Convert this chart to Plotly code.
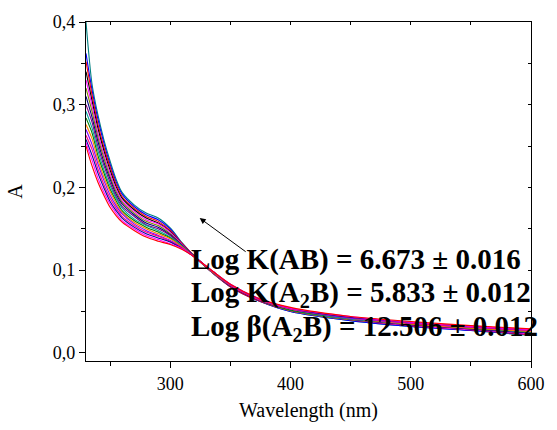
import plotly.graph_objects as go

# Wavelength grid (nm)
wavelength = [230, 235, 240, 245, 250, 255, 260, 270, 280, 290, 300, 310, 320,
              335, 350, 375, 400, 450, 500, 550, 600]

# Absorbance spectra of the titration (top to bottom at the 290 nm shoulder)
spec_01 = [0.400, 0.325, 0.287, 0.257, 0.232, 0.210, 0.194, 0.179, 0.169, 0.163, 0.151, 0.133, 0.117, 0.097, 0.080, 0.062, 0.050, 0.039, 0.032, 0.027, 0.021]
spec_02 = [0.362, 0.318, 0.282, 0.253, 0.228, 0.207, 0.192, 0.177, 0.167, 0.161, 0.150, 0.132, 0.117, 0.097, 0.080, 0.062, 0.050, 0.039, 0.032, 0.027, 0.022]
spec_03 = [0.352, 0.312, 0.276, 0.248, 0.225, 0.204, 0.189, 0.175, 0.165, 0.159, 0.148, 0.132, 0.117, 0.097, 0.080, 0.062, 0.051, 0.040, 0.033, 0.028, 0.022]
spec_04 = [0.340, 0.305, 0.271, 0.244, 0.221, 0.201, 0.187, 0.173, 0.163, 0.157, 0.147, 0.131, 0.117, 0.097, 0.081, 0.063, 0.051, 0.040, 0.033, 0.028, 0.023]
spec_05 = [0.330, 0.299, 0.265, 0.239, 0.217, 0.198, 0.184, 0.171, 0.161, 0.156, 0.146, 0.131, 0.117, 0.097, 0.081, 0.063, 0.051, 0.040, 0.033, 0.028, 0.023]
spec_06 = [0.320, 0.292, 0.260, 0.235, 0.213, 0.195, 0.182, 0.169, 0.159, 0.154, 0.144, 0.130, 0.117, 0.098, 0.081, 0.063, 0.051, 0.040, 0.034, 0.029, 0.024]
spec_07 = [0.310, 0.285, 0.255, 0.230, 0.210, 0.192, 0.180, 0.167, 0.157, 0.152, 0.143, 0.130, 0.117, 0.098, 0.081, 0.063, 0.052, 0.041, 0.034, 0.029, 0.024]
spec_08 = [0.300, 0.279, 0.249, 0.226, 0.206, 0.189, 0.177, 0.165, 0.155, 0.150, 0.142, 0.129, 0.117, 0.098, 0.081, 0.063, 0.052, 0.041, 0.034, 0.029, 0.025]
spec_09 = [0.292, 0.272, 0.244, 0.221, 0.202, 0.187, 0.175, 0.162, 0.154, 0.148, 0.140, 0.129, 0.116, 0.098, 0.082, 0.064, 0.052, 0.041, 0.035, 0.030, 0.025]
spec_10 = [0.284, 0.266, 0.238, 0.217, 0.198, 0.184, 0.172, 0.160, 0.152, 0.146, 0.139, 0.128, 0.116, 0.098, 0.082, 0.064, 0.052, 0.042, 0.035, 0.030, 0.026]
spec_11 = [0.276, 0.259, 0.233, 0.212, 0.195, 0.181, 0.170, 0.158, 0.150, 0.144, 0.138, 0.128, 0.116, 0.098, 0.082, 0.064, 0.053, 0.042, 0.035, 0.030, 0.026]
spec_12 = [0.270, 0.252, 0.228, 0.208, 0.191, 0.178, 0.168, 0.156, 0.148, 0.142, 0.136, 0.127, 0.116, 0.099, 0.082, 0.064, 0.053, 0.042, 0.036, 0.031, 0.027]
spec_13 = [0.263, 0.246, 0.222, 0.203, 0.187, 0.175, 0.165, 0.154, 0.146, 0.141, 0.135, 0.127, 0.116, 0.099, 0.082, 0.064, 0.053, 0.043, 0.036, 0.031, 0.027]
spec_14 = [0.258, 0.239, 0.217, 0.199, 0.183, 0.172, 0.163, 0.152, 0.144, 0.139, 0.134, 0.126, 0.116, 0.099, 0.083, 0.065, 0.054, 0.043, 0.037, 0.032, 0.028]
spec_15 = [0.254, 0.233, 0.211, 0.194, 0.180, 0.169, 0.160, 0.150, 0.142, 0.137, 0.132, 0.126, 0.116, 0.099, 0.083, 0.065, 0.054, 0.044, 0.037, 0.032, 0.028]
spec_16 = [0.250, 0.226, 0.206, 0.190, 0.176, 0.166, 0.158, 0.148, 0.140, 0.135, 0.131, 0.125, 0.116, 0.099, 0.083, 0.065, 0.055, 0.044, 0.038, 0.033, 0.029]

spectra = [spec_01, spec_02, spec_03, spec_04, spec_05, spec_06, spec_07, spec_08,
           spec_09, spec_10, spec_11, spec_12, spec_13, spec_14, spec_15, spec_16]

line_colors = ["#008080", "#0000FF", "#FF0000", "#000000", "#FF00FF", "#808000",
               "#000080", "#800080", "#00A0A0", "#008000", "#FF8000", "#8000FF",
               "#FF0080", "#0000A0", "#FF00FF", "#FF0000"]

y_tickvals = [0.0, 0.1, 0.2, 0.3, 0.4]
y_ticktext = ["0,0", "0,1", "0,2", "0,3", "0,4"]
x_tickvals = [300, 400, 500, 600]

annotation_lines = [
    "Log K(AB) = 6.673 ± 0.016",
    "Log K(A<sub>2</sub>B) = 5.833 ± 0.012",
    "Log β(A<sub>2</sub>B) = 12.506 ± 0.012",
]

XR = [230, 600]
YR = [-0.0098, 0.4]
FONT = "Liberation Serif"

fig = go.Figure()
for ys, c in zip(spectra, line_colors):
    fig.add_trace(go.Scatter(x=wavelength, y=ys, mode="lines",
                             line=dict(color=c, width=1.1, shape="spline", smoothing=0.8),
                             showlegend=False, hoverinfo="skip"))

# dummy trace to activate the mirrored axes
fig.add_trace(go.Scatter(x=[None], y=[None], xaxis="x2", yaxis="y2",
                         showlegend=False, hoverinfo="skip"))

fig.update_layout(
    width=557, height=430,
    margin=dict(l=86, r=15, t=22, b=61),
    paper_bgcolor="white", plot_bgcolor="white",
    font=dict(family=FONT, size=18, color="black"),
    xaxis=dict(range=XR, tickvals=x_tickvals, ticks="outside", ticklen=6,
               tickwidth=1, tickcolor="black", showline=True, linecolor="black",
               linewidth=1.3, showgrid=False, zeroline=False,
               minor=dict(tickvals=[250, 350, 450, 550], ticks="outside",
                          ticklen=3.5, tickcolor="black", showgrid=False),
               title=dict(text="Wavelength (nm)", font=dict(family=FONT, size=20), standoff=10),
               tickfont=dict(family=FONT, size=18)),
    yaxis=dict(range=YR, tickvals=y_tickvals, ticktext=y_ticktext, ticks="outside",
               ticklen=6, tickwidth=1, tickcolor="black", showline=True,
               linecolor="black", linewidth=1.3, showgrid=False, zeroline=False,
               minor=dict(tickvals=[0.05, 0.15, 0.25, 0.35], ticks="outside",
                          ticklen=3.5, tickcolor="black", showgrid=False),
               title=dict(text="A", font=dict(family=FONT, size=20), standoff=24),
               tickfont=dict(family=FONT, size=18)),
    xaxis2=dict(range=XR, overlaying="x", side="top", anchor="y",
                tickvals=[250, 300, 350, 400, 450, 500, 550, 600],
                ticks="inside", ticklen=3, tickcolor="black", showticklabels=False,
                showline=True, linecolor="black", linewidth=1.3, showgrid=False,
                zeroline=False),
    yaxis2=dict(range=YR, overlaying="y", side="right", anchor="x",
                tickvals=[0.05, 0.1, 0.15, 0.2, 0.25, 0.3, 0.35],
                ticks="inside", ticklen=3, tickcolor="black", showticklabels=False,
                showline=True, linecolor="black", linewidth=1.3, showgrid=False,
                zeroline=False),
)

# arrow
fig.add_annotation(x=324.5, y=0.163, ax=364, ay=0.121, xref="x", yref="y",
                   axref="x", ayref="y", text="", showarrow=True,
                   arrowhead=2, arrowsize=1.2, arrowwidth=1, arrowcolor="black")

# stability constant text
for i, txt in enumerate(annotation_lines):
    fig.add_annotation(x=316, y=0.1125 - i * 0.0415, xref="x", yref="y",
                       xanchor="left", yanchor="middle", showarrow=False,
                       text="<b>" + txt + "</b>",
                       font=dict(family=FONT, size=29, color="black"))

fig.write_html("out.html")
